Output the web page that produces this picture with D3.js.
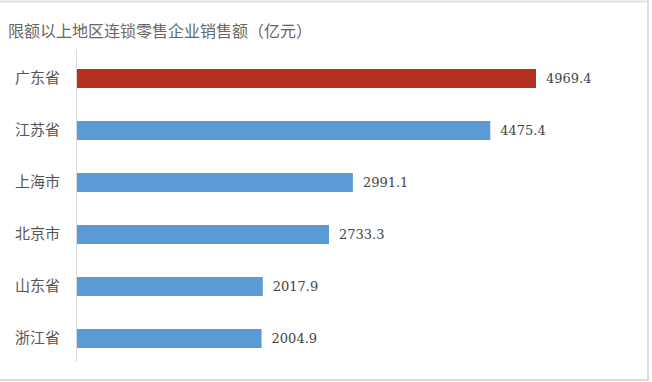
<!DOCTYPE html>
<html><head><meta charset="utf-8">
<script src="https://cdn.jsdelivr.net/npm/d3@7"></script>
<style>body{margin:0;background:#fff}svg{display:block}</style>
</head><body>
<svg id="c" width="652" height="382"></svg>
<script>
const title = "限额以上地区连锁零售企业销售额（亿元）";
const categories = ["广东省","江苏省","上海市","北京市","山东省","浙江省"];
const values = [4969.4, 4475.4, 2991.1, 2733.3, 2017.9, 2004.9];
const highlight = ["广东省"];

const svg = d3.select("#c");
// frame
svg.append("line").attr("x1",0).attr("x2",649).attr("y1",1.5).attr("y2",1.5).attr("stroke","#e2e2e2").attr("stroke-width",2);
svg.append("line").attr("x1",648).attr("x2",648).attr("y1",0).attr("y2",381).attr("stroke","#dcdcdc").attr("stroke-width",2);
svg.append("line").attr("x1",0).attr("x2",649).attr("y1",380).attr("y2",380).attr("stroke","#dcdcdc").attr("stroke-width",2);

svg.append("text").attr("x",8).attr("y",37).attr("font-family","Noto Sans CJK SC").attr("font-size",16)
  .attr("fill","#666").text(title);

const x0 = 76;
const x = d3.scaleLinear().domain([0, 4969.4]).range([x0, 536]);
const y = d3.scaleBand().domain(categories).range([52.5, 364.5]).paddingInner(0.635).paddingOuter(0.3175);

const g = svg.append("g");
g.selectAll("rect").data(values).join("rect")
  .attr("x", x(0)).attr("y",(d,i)=>y(categories[i]))
  .attr("width", d=>x(d)-x(0)).attr("height", y.bandwidth())
  .attr("fill",(d,i)=>highlight.includes(categories[i])?"#b5311f":"#5b9bd5");

const axis = d3.axisLeft(y).tickSize(0).tickPadding(16);
const ag = svg.append("g").attr("transform",`translate(${x0},0)`).call(axis);
ag.select(".domain").attr("stroke","#d9d9d9").attr("d","M0.5,50V362");
ag.selectAll("text").attr("font-family","Noto Sans CJK SC").attr("font-size",15).attr("fill","#555");

g.selectAll("text.v").data(values).join("text").attr("class","v")
  .attr("x", d=>x(d)+10).attr("y",(d,i)=>y(categories[i])+y.bandwidth()/2)
  .attr("dy","0.36em").attr("font-family","DejaVu Serif").attr("font-size",13).attr("fill","#444")
  .text(d=>d.toFixed(1));
</script>
</body></html>
